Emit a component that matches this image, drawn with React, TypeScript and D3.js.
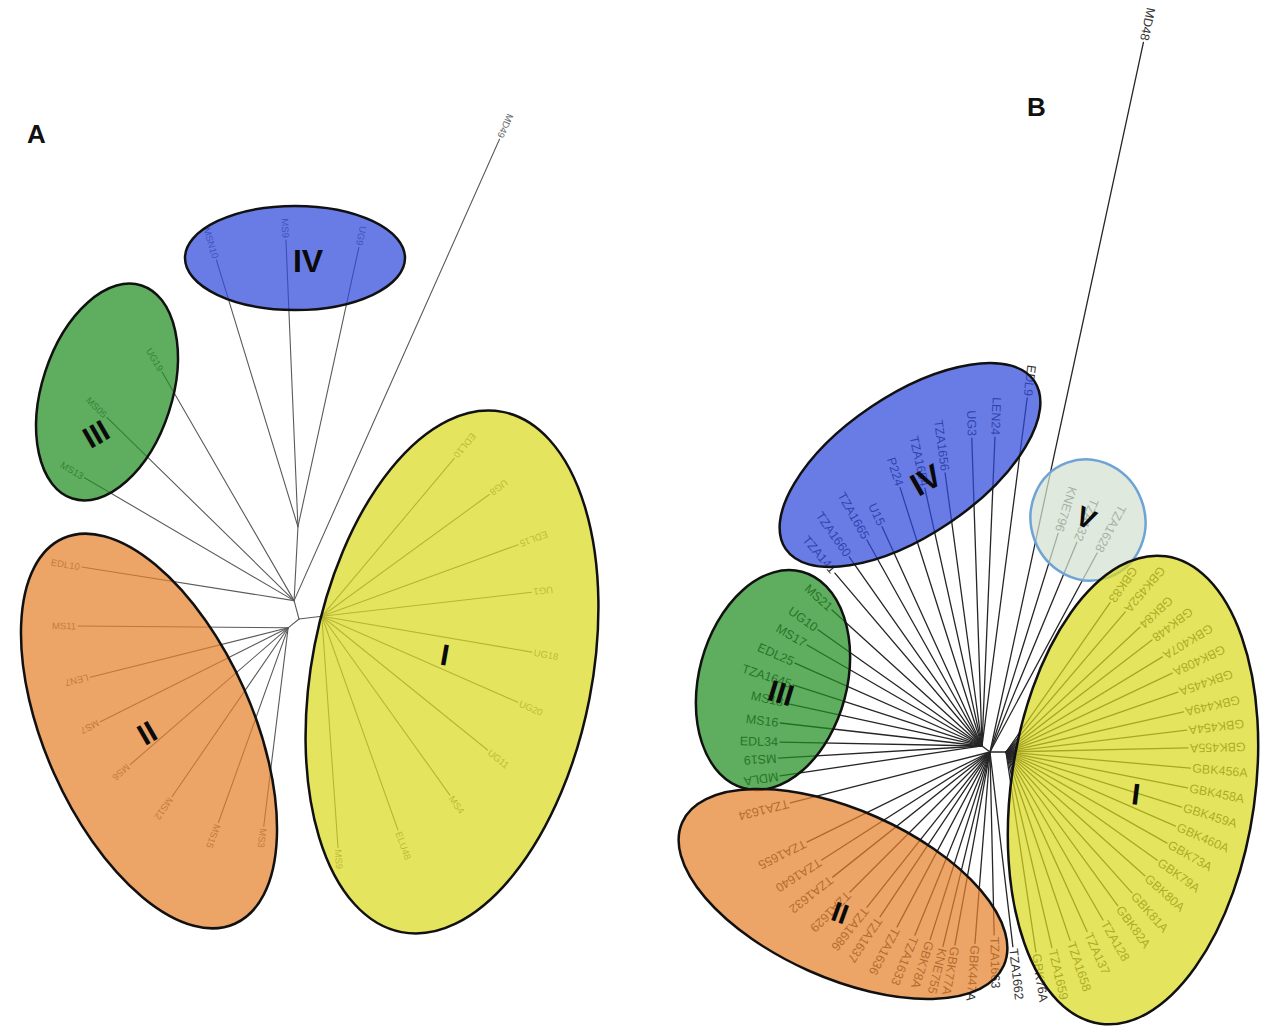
import * as d3 from "d3";

// tips: [label, parent node, branch angle (deg, ccw from east), branch length]
type Tip = [string, string, number, number];
type Internal = [string, string, number, number];

// ---------- Panel A ----------
const aInternal: Internal[] = [
  ["aI", "root", 7, 0.023],
  ["aTop", "root", 105, 0.019],
  ["aII", "root", 219, 0.014],
  ["aIV", "aTop", 87, 0.074],
];
const aCladeI: Tip[] = [
  ["EDL10", "aI", 50, 0.206],
  ["UG8", "aI", 36, 0.207],
  ["EDL15", "aI", 20, 0.209],
  ["UG1", "aI", 6.5, 0.211],
  ["UG18", "aI", -9.7, 0.213],
  ["UG20", "aI", -23.7, 0.214],
  ["UG11", "aI", -38.9, 0.213],
  ["MS4", "aI", -54.4, 0.22],
  ["ELU48", "aI", -70.4, 0.227],
  ["MS9", "aI", -86, 0.232],
];
const aCladeII: Tip[] = [
  ["EDL10", "aTop", 171, 0.215],
  ["MS11", "aII", 179.5, 0.21],
  ["LEN7", "aII", 194, 0.204],
  ["MS7", "aII", 206.6, 0.21],
  ["MS6", "aII", 220.9, 0.209],
  ["MS12", "aII", 235.5, 0.205],
  ["MS15", "aII", 250.3, 0.207],
  ["MS3", "aII", 263, 0.2],
];
const aCladeIII: Tip[] = [
  ["UG19", "aTop", 120, 0.264],
  ["MS05", "aTop", 135.6, 0.262],
  ["MS13", "aTop", 149.6, 0.243],
];
const aCladeIV: Tip[] = [
  ["MSN10", "aIV", 107, 0.279],
  ["MS9", "aIV", 92.4, 0.287],
  ["UG9", "aIV", 77.7, 0.286],
];
const aOther: Tip[] = [["MD49", "aTop", 66, 0.505]];

// ---------- Panel B ----------
const bInternal: Internal[] = [
  ["bL", "root", 143, 0.01],
  ["bR", "root", 0, 0.016],
];
const bCladeI: Tip[] = [
  ["GBK83", "bR", 55.1, 0.182],
  ["GBK452A", "bR", 49.6, 0.184],
  ["GBK84", "bR", 43, 0.183],
  ["GBK448", "bR", 37.5, 0.184],
  ["GBK407A", "bR", 31.3, 0.183],
  ["GBK408A", "bR", 25.4, 0.184],
  ["GBK445A", "bR", 19.2, 0.182],
  ["GBK449A", "bR", 12.7, 0.182],
  ["GBK454A", "bR", 6.9, 0.182],
  ["GBK455A", "bR", 1.3, 0.182],
  ["GBK456A", "bR", -5, 0.185],
  ["GBK458A", "bR", -11.2, 0.185],
  ["GBK459A", "bR", -17.4, 0.184],
  ["GBK460A", "bR", -23.6, 0.185],
  ["GBK73A", "bR", -29.5, 0.185],
  ["GBK79A", "bR", -35.6, 0.186],
  ["GBK80A", "bR", -41.7, 0.186],
  ["GBK81A", "bR", -48.2, 0.189],
  ["GBK82A", "bR", -54, 0.19],
  ["TZA128", "bR", -60, 0.194],
  ["TZA137", "bR", -65.7, 0.197],
  ["TZA1658", "bR", -71.2, 0.199],
  ["TZA1659", "bR", -76.8, 0.201],
  ["GBK76A", "bR", -81.5, 0.202],
];
const bCladeII: Tip[] = [
  ["TZA1634", "root", 194.3, 0.206],
  ["TZA1655", "root", 206.2, 0.204],
  ["TZA1640", "root", 212.7, 0.2],
  ["TZA1632", "root", 218.5, 0.201],
  ["TZA1629", "root", 225, 0.198],
  ["TZA1686", "root", 231.6, 0.198],
  ["TZA1637", "root", 236.3, 0.198],
  ["TZA1636", "root", 242, 0.198],
  ["TZA1633", "root", 247.7, 0.198],
  ["GBK78A", "root", 252.3, 0.197],
  ["KNE755", "root", 256.4, 0.2],
  ["GBK77A", "root", 259.7, 0.196],
  ["GBK447A", "root", 265.5, 0.192],
];
const bCladeIII: Tip[] = [
  ["MS21", "bL", 137.8, 0.2025],
  ["UG10", "bL", 144.7, 0.201],
  ["MS17", "bL", 150, 0.202],
  ["EDL25", "bL", 156.1, 0.2046],
  ["TZA1645", "bL", 162.1, 0.1986],
  ["MS18", "bL", 167.7, 0.2016],
  ["MS16", "bL", 173.5, 0.203],
  ["EDL34", "bL", 178.9, 0.202],
  ["MS19", "bL", 183.4, 0.204],
  ["MDLA", "bL", 188.4, 0.204],
];
const bCladeIV: Tip[] = [
  ["EDL9", "bL", 82.6, 0.351],
  ["LEN24", "bL", 87.6, 0.309],
  ["UG3", "bL", 91.9, 0.308],
  ["TZA1656", "bL", 97.7, 0.2755],
  ["TZA1654", "bL", 102.5, 0.264],
  ["P224", "bL", 107.6, 0.271],
  ["U15", "bL", 114.5, 0.241],
  ["TZA1665", "bL", 119.2, 0.236],
  ["TZA1660", "bL", 125.1, 0.231],
];
const bCladeV: Tip[] = [
  ["KNE796", "root", 72.7, 0.229],
  ["TZA132", "root", 67.5, 0.227],
  ["TZA1628", "root", 61.7, 0.226],
];
const bOther: Tip[] = [
  ["TZA141", "bL", 130.4, 0.227],
  ["TZA1663", "root", 271.3, 0.183],
  ["TZA1662", "root", 276.7, 0.196],
  ["MD48", "root", 77.8, 0.726],
];

// cluster overlays (layout)
const colors = {
  I: "#dbda21",
  II: "#e4812c",
  III: "#218d21",
  IV: "#2f4adc",
  V: "#d2e0d0",
};

type Cluster = { id: string; cx: number; cy: number; rx: number; ry: number; rot: number; fill: string; stroke: string; lx: number; ly: number; lrot: number; size: number };

const clustersA: Cluster[] = [
  { id: "IV", cx: 295, cy: 258, rx: 110, ry: 52, rot: 0, fill: colors.IV, stroke: "#111", lx: 308, ly: 261, lrot: 0, size: 32 },
  { id: "III", cx: 107, cy: 392, rx: 65, ry: 112, rot: 18, fill: colors.III, stroke: "#111", lx: 96, ly: 434, lrot: -30, size: 30 },
  { id: "II", cx: 149, cy: 731, rx: 104, ry: 211, rot: -24, fill: colors.II, stroke: "#111", lx: 147, ly: 733, lrot: -30, size: 30 },
  { id: "I", cx: 452, cy: 672, rx: 140, ry: 265, rot: 11, fill: colors.I, stroke: "#111", lx: 445, ly: 655, lrot: 10, size: 30 },
];
const clustersB: Cluster[] = [
  { id: "IV", cx: 910, cy: 465, rx: 150, ry: 70, rot: -34, fill: colors.IV, stroke: "#111", lx: 926, ly: 480, lrot: -30, size: 32 },
  { id: "V", cx: 1088, cy: 520, rx: 57, ry: 61, rot: -20, fill: colors.V, stroke: "#6fa3d6", lx: 1086, ly: 518, lrot: 25, size: 28 },
  { id: "III", cx: 773, cy: 680, rx: 74, ry: 112, rot: 15, fill: colors.III, stroke: "#111", lx: 781, ly: 693, lrot: 17, size: 30 },
  { id: "II", cx: 843, cy: 894, rx: 176, ry: 84, rot: 24, fill: colors.II, stroke: "#111", lx: 840, ly: 913, lrot: 20, size: 28 },
  { id: "I", cx: 1133, cy: 790, rx: 122, ry: 236, rot: 8, fill: colors.I, stroke: "#111", lx: 1136, ly: 794, lrot: 7, size: 30 },
];

const FONT = "'Liberation Sans', Arial, Helvetica, sans-serif";

type PanelProps = {
  root: { x: number; y: number };
  internal: Internal[];
  tips: Tip[];
  clusters: Cluster[];
  lineColor: string;
  lineWidth: number;
  textColor: string;
  fontSize: number;
};

function Tree({ root, internal, tips, clusters, lineColor, lineWidth, textColor, fontSize }: PanelProps) {
  const len = d3.scaleLinear().domain([0, 1]).range([0, 1000]);
  const pos: Record<string, { x: number; y: number }> = { root };
  const step = (p: { x: number; y: number }, a: number, l: number) => {
    const r = (a * Math.PI) / 180;
    return { x: p.x + Math.cos(r) * len(l), y: p.y - Math.sin(r) * len(l) };
  };
  const segs: { x1: number; y1: number; x2: number; y2: number }[] = [];
  internal.forEach(([id, parent, a, l]) => {
    pos[id] = step(pos[parent], a, l);
    segs.push({ x1: pos[parent].x, y1: pos[parent].y, x2: pos[id].x, y2: pos[id].y });
  });
  const leaves = tips.map(([name, parent, a, l]) => {
    const p = pos[parent];
    const t = step(p, a, l);
    segs.push({ x1: p.x, y1: p.y, x2: t.x, y2: t.y });
    const norm = ((a % 360) + 360) % 360;
    const flip = norm > 0 && norm < 180;
    const lp = step(t, a, 2 / 1000);
    return { name, x: lp.x, y: lp.y, rot: flip ? 180 - a : -a, anchor: flip ? "end" : "start" };
  });

  return (
    <g>
      {segs.map((s, i) => (
        <line key={i} {...s} stroke={lineColor} strokeWidth={lineWidth} strokeLinecap="round" />
      ))}
      {leaves.map((d, i) => (
        <text
          key={i}
          x={d.x}
          y={d.y}
          transform={`rotate(${d.rot}, ${d.x}, ${d.y})`}
          textAnchor={d.anchor}
          dominantBaseline="central"
          fontSize={fontSize}
          fill={textColor}
          fontFamily={FONT}
        >
          {d.name}
        </text>
      ))}
      {clusters.map((c) => (
        <ellipse
          key={"e" + c.id}
          cx={c.cx}
          cy={c.cy}
          rx={c.rx}
          ry={c.ry}
          transform={`rotate(${c.rot}, ${c.cx}, ${c.cy})`}
          fill={c.fill}
          fillOpacity={0.72}
          stroke={c.stroke}
          strokeWidth={2.5}
        />
      ))}
      {clusters.map((c) => (
        <text
          key={"l" + c.id}
          x={c.lx}
          y={c.ly}
          transform={`rotate(${c.lrot}, ${c.lx}, ${c.ly})`}
          textAnchor="middle"
          dominantBaseline="central"
          fontSize={c.size}
          fontWeight={700}
          fill="#0a0a0a"
          fontFamily={FONT}
        >
          {c.id}
        </text>
      ))}
    </g>
  );
}

export default function App() {
  const tipsA = [...aCladeI, ...aCladeII, ...aCladeIII, ...aCladeIV, ...aOther];
  const tipsB = [...bCladeI, ...bCladeII, ...bCladeIII, ...bCladeIV, ...bCladeV, ...bOther];
  return (
    <svg
      width={1270}
      height={1029}
      viewBox="0 0 1270 1029"
      style={{ position: "absolute", left: 0, top: 0, background: "#fff" }}
    >
      <rect width={1270} height={1029} fill="#fff" />
      <Tree
        root={{ x: 299, y: 619 }}
        internal={aInternal}
        tips={tipsA}
        clusters={clustersA}
        lineColor="#5a5a5a"
        lineWidth={1.1}
        textColor="#6a6a6a"
        fontSize={9.5}
      />
      <Tree
        root={{ x: 990, y: 752 }}
        internal={bInternal}
        tips={tipsB}
        clusters={clustersB}
        lineColor="#262626"
        lineWidth={1.3}
        textColor="#333"
        fontSize={12.5}
      />
      <text x={27} y={143} fontSize={26} fontWeight={700} fontFamily={FONT} fill="#111">A</text>
      <text x={1027} y={116} fontSize={26} fontWeight={700} fontFamily={FONT} fill="#111">B</text>
    </svg>
  );
}
